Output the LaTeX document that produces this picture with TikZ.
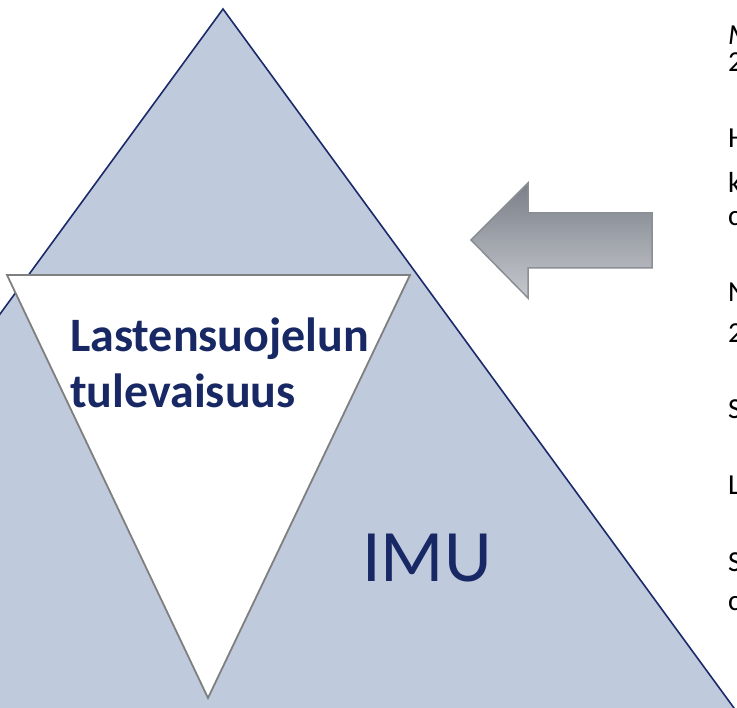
\documentclass[tikz,border=0pt]{standalone}
\usepackage{fontspec}
\setmainfont{Carlito}
\definecolor{tri}{HTML}{BFCADC}
\definecolor{navy}{HTML}{1A2A6A}
\definecolor{txtnavy}{HTML}{172864}
\definecolor{grayedge}{HTML}{7F7F7F}
\definecolor{arrtop}{HTML}{7A7F88}
\definecolor{arrbot}{HTML}{C6C9CE}
\definecolor{arredge}{HTML}{8A8E95}
\tikzset{
  edgetxt/.style={anchor=base west, inner sep=0pt, font=\fontsize{29}{29}\selectfont, text=black},
}
\begin{document}
\begin{tikzpicture}[x=1pt,y=-1pt]
\useasboundingbox (0,0) rectangle (737,708);
\clip (0,0) rectangle (737,708);
% big triangle
\coordinate (apex) at (223,9);
\coordinate (bl) at (-538,1050);
\coordinate (br) at (984,1050);
\draw[fill=tri, draw=navy, line width=1.6pt] (apex) -- (br) -- (bl) -- cycle;
% inverted white triangle
\coordinate (wtl) at (7,275);
\coordinate (wtr) at (410,275);
\coordinate (wb) at (208,698);
\draw[fill=white, draw=grayedge, line width=1.8pt] (wtl) -- (wtr) -- (wb) -- cycle;
% title
\node[anchor=base west, inner sep=0pt, align=left, text=txtnavy,
      font=\fontsize{48}{56}\selectfont\bfseries] (title) at (70,408)
  {Lastensuojelun\\tulevaisuus};
% IMU
\node[anchor=base west, inner sep=0pt, text=txtnavy, font=\fontsize{74}{74}\selectfont] (imu) at (362,582) {IMU};
% arrow
\path[top color=arrtop, bottom color=arrbot, draw=arredge, line width=1.5pt]
  (471,240) -- (528,183) -- (528,213) -- (652,213) -- (652,268) -- (528,268) -- (528,298) -- cycle;
% cut-off text at right edge
\node[edgetxt, font=\fontsize{29}{29}\selectfont\itshape] (t1) at (728,45) {M};
\node[edgetxt] (t2) at (728,72) {2};
\node[edgetxt] (t3) at (728,148) {H};
\node[edgetxt] (t4) at (728,193) {k};
\node[edgetxt] (t5) at (728,226) {c};
\node[edgetxt] (t6) at (728,302) {N};
\node[edgetxt] (t7) at (728,343) {2};
\node[edgetxt] (t8) at (728,419) {S};
\node[edgetxt] (t9) at (728,495) {L};
\node[edgetxt] (t10) at (728,572) {S};
\node[edgetxt] (t11) at (728,610) {c};
\end{tikzpicture}
\end{document}
